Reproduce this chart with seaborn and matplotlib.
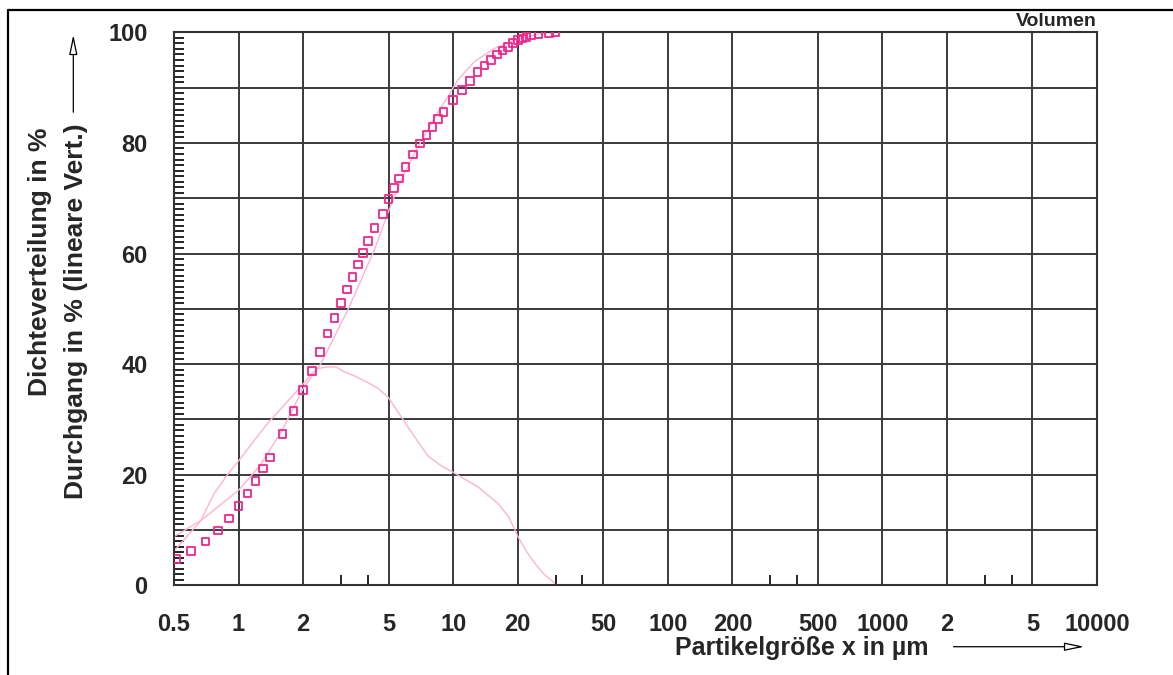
import numpy as np
import pandas as pd
import seaborn as sns
import matplotlib
matplotlib.use("Agg")
from matplotlib import pyplot as plt
from matplotlib.lines import Line2D
from matplotlib.ticker import FixedLocator, NullFormatter

# Durchgang (Messpunkte, Quadrate)
size_pts = [0.51, 0.6, 0.7, 0.8, 0.9, 1.0, 1.1, 1.2, 1.3, 1.4, 1.6, 1.8, 2.0, 2.2, 2.4,
            2.6, 2.8, 3.0, 3.2, 3.4, 3.6, 3.8, 4.0, 4.3, 4.7, 5.0, 5.3, 5.6, 6.0, 6.5,
            7.0, 7.5, 8.0, 8.5, 9.0, 10, 11, 12, 13, 14, 15, 16, 17, 18, 19,
            20, 21, 22, 23, 25, 28, 30]
passing_pts = [4.7, 6.2, 7.9, 9.9, 12.1, 14.3, 16.6, 18.9, 21.1, 23.1, 27.4, 31.5, 35.3,
               38.8, 42.2, 45.5, 48.3, 51.1, 53.5, 55.8, 58.0, 60.1, 62.3, 64.6, 67.1,
               69.9, 71.8, 73.6, 75.6, 77.9, 79.9, 81.4, 82.9, 84.3, 85.6, 87.8, 89.6,
               91.2, 92.8, 94.0, 95.0, 96.0, 96.7, 97.4, 98.1, 98.6, 98.9, 99.2, 99.5,
               99.7, 99.9, 100.0]

# Durchgang (Kurve)
size_cum = [0.5, 0.667, 1.0, 1.25, 1.6, 2.0, 2.42, 3.23, 4.29, 4.96, 5.72, 6.6, 7.89,
            9.45, 10.52, 12.57, 15.59, 19.32, 22.3, 25.7, 30]
passing_cum = [8.8, 11.7, 17.2, 21.5, 28.1, 35.6, 40.1, 49.8, 60.6, 67.3, 73.3, 78.1,
               83.5, 88.4, 91.4, 94.7, 97.1, 98.6, 99.2, 99.8, 100.0]

# Dichteverteilung
size_dens = [0.5, 0.58, 0.667, 0.769, 0.88, 1.0, 1.366, 1.918, 2.2, 2.337, 2.603, 2.845,
             3.11, 3.45, 3.855, 4.4, 4.96, 5.72, 6.6, 7.62, 8.8, 10.14, 13.04, 16.17,
             18.2, 20.04, 21.9, 23.96, 26.5, 29.7]
density = [6.2, 9.0, 11.7, 16.6, 19.8, 22.5, 29.3, 35.6, 38.3, 39.2, 39.5, 39.5,
           38.6, 37.9, 37.0, 35.8, 34.1, 30.5, 26.9, 23.4, 21.6, 20.3, 17.8, 14.8,
           12.3, 8.8, 6.2, 4.0, 2.0, 0.4]

x_ticks = [0.5, 1, 2, 5, 10, 20, 50, 100, 200, 500, 1000, 2000, 5000, 10000]
x_labels = ["0.5", "1", "2", "5", "10", "20", "50", "100", "200", "500", "1000", "2", "5", "10000"]
x_minor = [3, 4, 30, 40, 300, 400, 3000, 4000]

pts = pd.DataFrame({"x": size_pts, "y": passing_pts})
cum = pd.DataFrame({"x": size_cum, "y": passing_cum})
dens = pd.DataFrame({"x": size_dens, "y": density})

sns.set_style("white")
plt.rcParams['font.family'] = ['Liberation Sans', 'DejaVu Sans']
plt.rcParams['font.weight'] = 'bold'

fig = plt.figure(figsize=(11.73, 6.75), dpi=100)
ax = fig.add_axes([0.1483, 0.1329, 0.7869, 0.8192])

line_col = '#ffb3d1'
sns.lineplot(data=cum, x="x", y="y", ax=ax, color=line_col, lw=1.0, estimator=None, sort=False)
sns.lineplot(data=dens, x="x", y="y", ax=ax, color=line_col, lw=1.0, estimator=None, sort=False)
sns.scatterplot(data=pts, x="x", y="y", ax=ax, marker='s', s=30, facecolor='none',
                edgecolor='#f0288c', linewidth=1.3, zorder=5)

ax.set_xscale('log')
ax.set_xlim(0.5, 10000)
ax.set_ylim(0, 100)
ax.xaxis.set_major_locator(FixedLocator(x_ticks))
ax.set_xticklabels(x_labels)
ax.xaxis.set_minor_locator(FixedLocator(x_minor))
ax.xaxis.set_minor_formatter(NullFormatter())
ax.set_yticks(np.arange(0, 101, 10))
ax.set_yticklabels(["0", "", "20", "", "40", "", "60", "", "80", "", "100"])
ax.yaxis.set_minor_locator(FixedLocator(np.arange(0, 101, 1)))

ax.grid(True, which='major', color='#3a3a3a', lw=1.4)

ax.tick_params(axis='both', which='major', length=0, labelsize=17)
ax.tick_params(axis='x', which='major', pad=20)
ax.tick_params(axis='y', which='major', pad=19)
ax.tick_params(axis='x', which='minor', bottom=True, direction='in', length=7, width=1.2,
               color='black')
ax.tick_params(axis='y', which='minor', left=True, direction='in', length=7, width=1.2,
               color='black')
for lab in ax.get_xticklabels() + ax.get_yticklabels():
    lab.set_fontweight('bold')

for sp in ax.spines.values():
    sp.set_color('#333333')
    sp.set_linewidth(1.5)

ax.set_xlabel("")
ax.set_ylabel("")

fig.text(675 / 1173, 1 - 648 / 675, "Partikelgröße x in µm", fontsize=18, fontweight='bold',
         ha='left', va='center')
fig.text(40 / 1173, 1 - 262 / 675, "Dichteverteilung in %", fontsize=19, fontweight='bold',
         rotation=90, ha='center', va='center')
fig.text(76 / 1173, 1 - 311 / 675, "Durchgang in % (lineare Vert.)", fontsize=19,
         fontweight='bold', rotation=90, ha='center', va='center')
fig.text(1056 / 1173, 1 - 21 / 675, "Volumen", fontsize=14, fontweight='bold',
         ha='center', va='center')

# arrows
fig.add_artist(plt.Annotation("", xy=(0.9267, 0.0419), xytext=(0.8105, 0.0419),
                              xycoords='figure fraction', textcoords='figure fraction',
                              arrowprops=dict(arrowstyle='-|>,head_length=1.2,head_width=0.25',
                                              fc='white', ec='black', lw=0.9)))
fig.add_artist(plt.Annotation("", xy=(0.0625, 0.9526), xytext=(0.0625, 0.8296),
                              xycoords='figure fraction', textcoords='figure fraction',
                              arrowprops=dict(arrowstyle='-|>,head_length=1.2,head_width=0.25',
                                              fc='white', ec='black', lw=0.9)))

# page frame
fig.add_artist(Line2D([0.0064, 0.0064], [0, 0.985], transform=fig.transFigure, color='black', lw=1.6))
fig.add_artist(Line2D([0.0064, 1.0], [0.985, 0.985], transform=fig.transFigure, color='black', lw=1.6))

fig.savefig("out.png", dpi=100)
